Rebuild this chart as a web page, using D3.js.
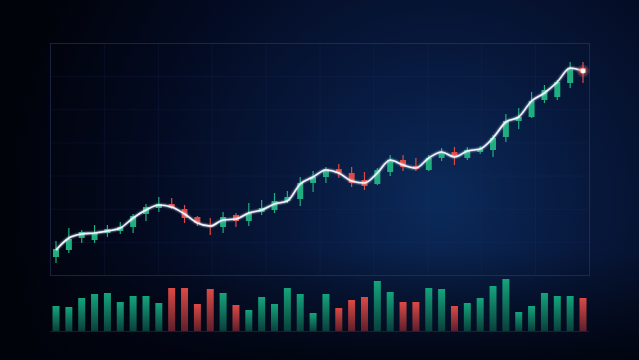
<!DOCTYPE html>
<html>
<head>
<meta charset="utf-8">
<script src="https://cdn.jsdelivr.net/npm/d3@7"></script>
<style>
  html, body { margin: 0; padding: 0; background: #020510; overflow: hidden; }
  #chart { width: 639px; height: 360px; }
</style>
</head>
<body>
<div id="chart"></div>
<script>
// candle values (price units), one entry per session
const sessions = d3.range(1, 43)
const opens  = [18, 25, 37, 35, 42, 44, 48, 61, 67, 71, 66, 58, 50, 48, 60, 54, 63, 65, 74, 76, 92, 98, 106, 102, 95, 91, 103, 115, 109, 105, 117, 123, 117, 123, 125, 138, 154, 158, 175, 178, 192, 207]
const closes = [26, 36, 43, 42, 46, 48, 59, 68, 71, 67, 57, 52, 48, 58, 54, 62, 67, 74, 78, 92, 98, 106, 102, 92, 89, 105, 115, 108, 106, 117, 123, 118, 125, 126, 137, 154, 158, 174, 185, 193, 207, 202]
const highs  = [34, 47, 45, 50, 50, 53, 61, 71, 78, 77, 70, 59, 57, 63, 62, 72, 75, 82, 84, 98, 104, 108, 111, 108, 103, 107, 120, 120, 117, 120, 127, 128, 128, 129, 140, 161, 167, 183, 190, 195, 213, 213]
const lows   = [12, 22, 32, 32, 38, 41, 42, 54, 63, 66, 52, 49, 40, 42, 48, 49, 60, 62, 72, 69, 83, 92, 97, 88, 85, 90, 99, 104, 104, 104, 114, 110, 115, 121, 118, 133, 146, 157, 172, 175, 187, 192]
// trend line readings
const trend  = [25, 37, 41, 42, 44, 47, 57, 65, 70, 68, 61, 52, 49, 55, 56, 62, 65, 71, 74, 91, 98, 105, 102, 94, 92, 102, 115, 110, 107, 117, 123, 118, 124, 126, 137, 153, 158, 174, 182, 193, 207, 204]
// traded volume
const volumes = [25, 24, 33, 37, 38, 29, 35, 35, 28, 43, 43, 27, 42, 38, 26, 21, 34, 27, 43, 37, 18, 37, 23, 31, 34, 50, 39, 29, 29, 43, 42, 25, 28, 33, 45, 52, 19, 25, 38, 35, 35, 33]

const W = 639, H = 360
const plot = { left: 50, right: 589, top: 43, bottom: 275 }
const volBase = 331

const GREEN = '#1fae80'
const RED = '#de4a43'

const data = sessions.map((s, i) => ({
    s, o: opens[i], c: closes[i], h: highs[i], l: lows[i], t: trend[i], v: volumes[i],
    up: closes[i] >= opens[i]
}))

const svg = d3.select('#chart').append('svg')
    .attr('width', W).attr('height', H)
    .attr('viewBox', [0, 0, W, H])
const defs = svg.append('defs')

// background
const bg = defs.append('radialGradient').attr('id', 'bg')
    .attr('gradientUnits', 'userSpaceOnUse')
    .attr('cx', 440).attr('cy', 200).attr('r', 430)
bg.append('stop').attr('offset', 0).attr('stop-color', '#0b2a5a')
bg.append('stop').attr('offset', 0.35).attr('stop-color', '#07183c')
bg.append('stop').attr('offset', 0.7).attr('stop-color', '#030a20')
bg.append('stop').attr('offset', 1).attr('stop-color', '#01030b')
svg.append('rect').attr('width', W).attr('height', H).attr('fill', 'url(#bg)')

// bottom darkening under the volume strip
const vign = defs.append('linearGradient').attr('id', 'vign')
    .attr('x1', 0).attr('y1', 0).attr('x2', 0).attr('y2', 1)
vign.append('stop').attr('offset', 0).attr('stop-color', '#01030c').attr('stop-opacity', 0)
vign.append('stop').attr('offset', 1).attr('stop-color', '#01030c').attr('stop-opacity', 0.85)
svg.append('rect').attr('x', 0).attr('y', 250).attr('width', W).attr('height', 110).attr('fill', 'url(#vign)')

const x = d3.scalePoint().domain(sessions).range([56, 583])
const y = d3.scaleLinear().domain([0, 232]).range([plot.bottom, plot.top])
const yVol = d3.scaleLinear().domain([0, 60]).range([volBase, volBase - 60])

// grid (very faint)
const grid = svg.append('g').attr('stroke', '#2a3d6e').attr('stroke-opacity', 0.16).attr('stroke-width', 1)
grid.selectAll('line.v').data(d3.range(1, 10)).join('line')
    .attr('x1', d => plot.left + d * (plot.right - plot.left) / 10 + 0.5)
    .attr('x2', d => plot.left + d * (plot.right - plot.left) / 10 + 0.5)
    .attr('y1', plot.top).attr('y2', plot.bottom)
grid.selectAll('line.h').data(d3.range(1, 7)).join('line')
    .attr('y1', d => plot.top + d * (plot.bottom - plot.top) / 7 + 0.5)
    .attr('y2', d => plot.top + d * (plot.bottom - plot.top) / 7 + 0.5)
    .attr('x1', plot.left).attr('x2', plot.right)
svg.append('rect')
    .attr('x', plot.left + 0.5).attr('y', plot.top + 0.5)
    .attr('width', plot.right - plot.left).attr('height', plot.bottom - plot.top)
    .attr('fill', 'none').attr('stroke', '#34487a').attr('stroke-opacity', 0.45)
svg.append('line')
    .attr('x1', plot.left).attr('x2', plot.right)
    .attr('y1', volBase + 0.5).attr('y2', volBase + 0.5)
    .attr('stroke', '#2a3d6e').attr('stroke-opacity', 0.45)

// volume gradients
for (const [id, top, bottom] of [['vg', '#14a57c', '#0a3f3c'], ['vr', '#dc4a45', '#5e1f2c']]) {
    const g = defs.append('linearGradient').attr('id', id)
        .attr('x1', 0).attr('y1', 0).attr('x2', 0).attr('y2', 1)
    g.append('stop').attr('offset', 0).attr('stop-color', top)
    g.append('stop').attr('offset', 1).attr('stop-color', bottom)
}
svg.append('g').attr('id', 'volume')
    .selectAll('rect').data(data).join('rect')
    .attr('x', d => x(d.s) - 3.5)
    .attr('width', 7)
    .attr('y', d => yVol(d.v))
    .attr('height', d => yVol(0) - yVol(d.v))
    .attr('fill', d => d.up ? 'url(#vg)' : 'url(#vr)')

// candles
const candles = svg.append('g').attr('id', 'candles')
    .selectAll('g').data(data).join('g')
candles.append('line')
    .attr('x1', d => x(d.s)).attr('x2', d => x(d.s))
    .attr('y1', d => y(d.h)).attr('y2', d => y(d.l))
    .attr('stroke', d => d.up ? GREEN : RED).attr('stroke-width', 1.2)
candles.append('rect')
    .attr('x', d => x(d.s) - 3)
    .attr('width', 6)
    .attr('y', d => y(Math.max(d.o, d.c)))
    .attr('height', d => Math.max(1.5, Math.abs(y(d.o) - y(d.c))))
    .attr('fill', d => d.up ? GREEN : RED)

// trend line with soft glow
const glow = defs.append('filter').attr('id', 'glow')
    .attr('x', '-20%').attr('y', '-20%').attr('width', '140%').attr('height', '140%')
glow.append('feGaussianBlur').attr('stdDeviation', 1.2).attr('result', 'b')
const merge = glow.append('feMerge')
merge.append('feMergeNode').attr('in', 'b')
merge.append('feMergeNode').attr('in', 'SourceGraphic')

const line = d3.line().x(d => x(d.s)).y(d => y(d.t)).curve(d3.curveMonotoneX)
svg.append('path').datum(data)
    .attr('d', line)
    .attr('fill', 'none')
    .attr('stroke', '#eef4ff')
    .attr('stroke-width', 1.6)
    .attr('stroke-linejoin', 'round')
    .attr('filter', 'url(#glow)')

// last point marker
const last = data[data.length - 1]
const halo = defs.append('radialGradient').attr('id', 'halo')
halo.append('stop').attr('offset', 0).attr('stop-color', '#ffffff').attr('stop-opacity', 0.9)
halo.append('stop').attr('offset', 0.45).attr('stop-color', '#e86a6a').attr('stop-opacity', 0.5)
halo.append('stop').attr('offset', 1).attr('stop-color', '#e86a6a').attr('stop-opacity', 0)
svg.append('circle').attr('cx', x(last.s)).attr('cy', y(last.t)).attr('r', 7).attr('fill', 'url(#halo)')
svg.append('circle').attr('cx', x(last.s)).attr('cy', y(last.t)).attr('r', 2.4).attr('fill', '#ffffff')
</script>
</body>
</html>
